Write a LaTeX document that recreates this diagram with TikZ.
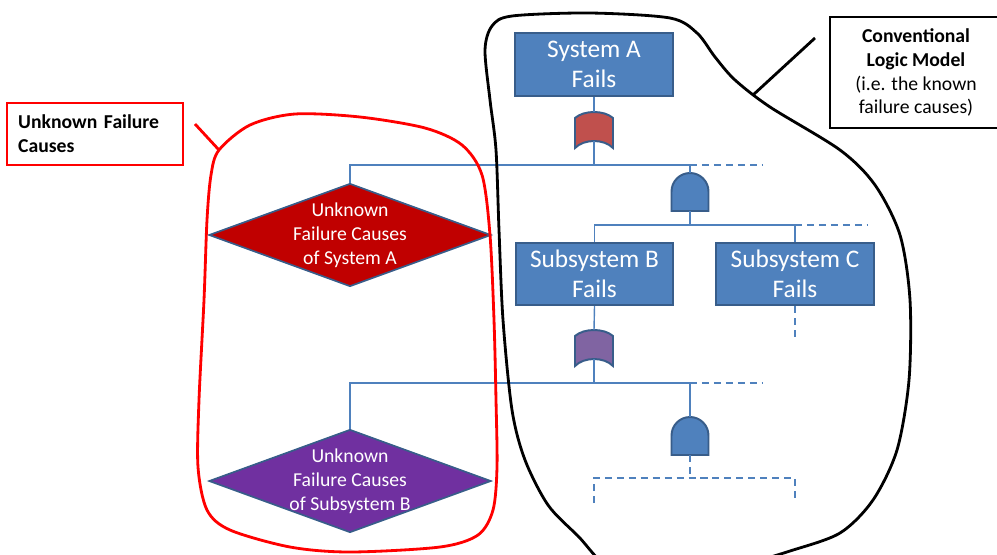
\documentclass[tikz,border=0pt]{standalone}
\usepackage{fontspec}
\setmainfont{Carlito}
\usetikzlibrary{shapes.geometric}
\definecolor{boxblue}{HTML}{4F81BD}
\definecolor{edgeblue}{HTML}{385D8A}
\definecolor{orA}{HTML}{C0504D}
\definecolor{orB}{HTML}{8064A2}
\definecolor{diaA}{HTML}{C00000}
\definecolor{diaB}{HTML}{7030A0}
\tikzset{
    orgate/.pic={
        \draw[gateline, pic actions] (-19,6) .. controls (-10,-2) and (10,-2) .. (19,6) -- (19,36) .. controls (10,26.7) and (-10,26.7) .. (-19,36) -- cycle;
        \coordinate (-top) at (0,0);
        \coordinate (-bot) at (0,29);
    },
    andgate/.pic={
        \draw[gateline, pic actions] (-18.5,38) -- (-18.5,18.5) .. controls (-18.5,8.3) and (-10.2,0) .. (0,0) .. controls (10.2,0) and (18.5,8.3) .. (18.5,18.5) -- (18.5,38) -- cycle;
        \coordinate (-top) at (0,0);
        \coordinate (-bot) at (0,38);
    }
}

\begin{document}
\begin{tikzpicture}[x=0.025cm, y=-0.025cm,
        eventbox/.style={draw=edgeblue, fill=boxblue, line width=1.4pt, text=white, font=\fontsize{18}{21.5}\selectfont, align=center, minimum width=3.93cm, minimum height=1.56cm, inner sep=0pt},
        unkdiamond/.style={diamond, draw=edgeblue, line width=1.2pt, text=white, font=\fontsize{14}{17}\selectfont, align=center, minimum width=7.05cm, minimum height=2.575cm, inner sep=-0.7cm},
        gateline/.style={draw=edgeblue, line width=1.4pt},
        link/.style={draw=boxblue, line width=1pt},
        dashlink/.style={link, dash pattern=on 5pt off 3.5pt},
        notebox/.style={line width=2pt, font=\fontsize{14}{17}\selectfont}]
    \useasboundingbox (0,0) rectangle (997,554);

    % events and gates of the known model
    \node[eventbox] (sysA) at (594,64.5) {System A\\Fails};
    \pic[fill=orA] (gA) at (594,112) {orgate};
    \pic[fill=boxblue] (and1) at (690,173) {andgate};
    \node[eventbox] (subB) at (594.5,274) {Subsystem B\\Fails};
    \node[eventbox] (subC) at (795,274) {Subsystem C\\Fails};
    \pic[fill=orB] (gB) at (594,330) {orgate};
    \pic[fill=boxblue] (and2) at (690,417) {andgate};

    % unknown causes
    \node[unkdiamond, fill=diaA] (unkA) at (350,235) {Unknown\\Failure Causes\\of System A};
    \node[unkdiamond, fill=diaB] (unkB) at (350,481) {Unknown\\Failure Causes\\of Subsystem B};

    \coordinate (busA) at (690,165); \coordinate (busAend) at (763,165);
    \coordinate (busB) at (795,225); \coordinate (busBend) at (868,225);
    \coordinate (busC) at (690,383); \coordinate (busCend) at (763,383);
    \coordinate (busD) at (690,478); \coordinate (stubC) at (795,340);
    \coordinate (legL) at (594,503); \coordinate (legR) at (795,503);

    \draw[link] (sysA.south) -- (gA-top);
    \draw[link] (gA-bot) -- (gA-bot |- busA);
    \draw[link] (unkA.north) |- (busA) -- (and1-top);
    \draw[dashlink] (busA) -- (busAend);
    \draw[link] (and1-bot) -- (and1-bot |- busB);
    \draw[link] (subB.north) |- (busB) -- (subC.north);
    \draw[dashlink] (busB) -- (busBend);
    \draw[dashlink] (subC.south) -- (stubC);
    \draw[link] (subB.south) -- (gB-top);
    \draw[link] (gB-bot) -- (gB-bot |- busC);
    \draw[link] (unkB.north) |- (busC) -- (and2-top);
    \draw[dashlink] (busC) -- (busCend);
    \draw[dashlink] (and2-bot) -- (busD);
    \draw[dashlink] (legL) |- (busD) -| (legR);

    % callouts
    \node[notebox, draw=red, font=\bfseries\fontsize{14}{17}\selectfont, text width=3.84cm, align=left, minimum height=1.55cm, inner xsep=0.28cm] (unkNote) at (95,134) {Unknown Failure\\Causes};
    \node[notebox, draw=black, align=center, minimum width=4.3cm, minimum height=2.775cm] (convNote) at (916,72.5) {\textbf{Conventional}\\\textbf{Logic Model}\\(i.e. the known\\failure causes)};

    \draw[red, line width=2pt] plot[smooth cycle] coordinates {(219,150) (250,125) (295,114) (360,117) (425,128) (462,145) (482,175) (490,235) (494,320) (496,400) (497,467) (493,510) (478,535) (440,547) (350,552) (290,547) (230,530) (207,510) (198,467) (199,400) (204,300) (207,220) (211,175)};
    \coordinate (redTip) at (195,124); \coordinate (redFoot) at (219,150);
    \draw[red, line width=2pt] (redTip) -- (redFoot);

    \draw[black, line width=2pt] plot[smooth cycle] coordinates {(485,50) (492,26) (512,16) (590,13) (670,18) (697,33) (715,57) (735,80) (770,107) (840,150) (875,185) (900,235) (910,300) (909,380) (897,450) (873,500) (840,533) (790,551) (745,564) (680,578) (615,572) (578,536) (548,505) (525,460) (512,410) (503,320) (499,230) (496,150) (490,100)};
    \coordinate (blackTip) at (815,38); \coordinate (blackFoot) at (753,95);
    \draw[black, line width=2pt] (blackTip) -- (blackFoot);
\end{tikzpicture}
\end{document}
